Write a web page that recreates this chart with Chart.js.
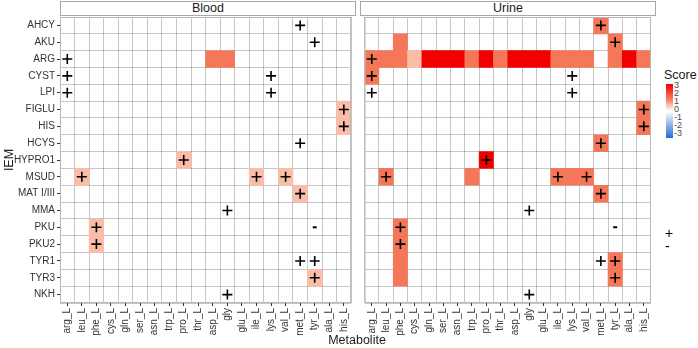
<!DOCTYPE html>
<html>
<head>
<meta charset="utf-8">
<script src="https://cdn.jsdelivr.net/npm/chart.js@4.4.1/dist/chart.umd.min.js"></script>
<style>
  body { margin: 0; background: #fff; font-family: "Liberation Sans", Arial, sans-serif; }
  #wrap { position: relative; width: 698px; height: 348px; overflow: hidden; }
  canvas { position: absolute; top: 0; }
  .strip { position: absolute; top: 1px; height: 15px; box-sizing: border-box; border: 1px solid #a8a8a8;
           text-align: center; font-size: 12.5px; line-height: 13px; color: #1a1a1a; background: #fff; }
  .lab { position: absolute; color: #1a1a1a; font-size: 12.5px; }
  #bar { position: absolute; left: 666px; top: 84px; width: 7px; height: 54px;
         background: linear-gradient(#f00000, #f7866a 30%, #fff 50%, #a9c4ea 70%, #1f6fd3); }
  #barTicks { position: absolute; left: 674px; top: 81px; font-size: 9px; line-height: 8px; color: #4d4d4d; }
  #shapes { position: absolute; left: 665px; top: 227px; font-size: 14px; line-height: 13px; color: #000;
            transform: translateZ(0); }
</style>
</head>
<body>
<div id="wrap">
  <canvas id="blood" width="358" height="348" style="left:0"></canvas>
  <canvas id="urine" width="300" height="348" style="left:358px"></canvas>
  <div class="strip" style="left:60px;width:296px">Blood</div>
  <div class="strip" style="left:360px;width:296px">Urine</div>
  <div class="lab" style="left:307px;width:100px;top:333px;text-align:center">Metabolite</div>
  <div class="lab" style="left:664px;top:68px">Score</div>
  <div id="bar"></div>
  <div id="barTicks">3<br>2<br>1<br>0<br>-1<br>-2<br>-3</div>
  <div id="shapes">+<br>-</div>
</div>
<script>
const metabolites = ['arg_L', 'leu_L', 'phe_L', 'cys_L', 'gln_L', 'ser_L', 'asn_L', 'trp_L', 'pro_L', 'thr_L',
                     'asp_L', 'gly', 'glu_L', 'ile_L', 'lys_L', 'val_L', 'met_L', 'tyr_L', 'ala_L', 'his_L'];
const iems = ['AHCY', 'AKU', 'ARG', 'CYST', 'LPI', 'FIGLU', 'HIS', 'HCYS', 'HYPRO1', 'MSUD',
              'MAT I/III', 'MMA', 'PKU', 'PKU2', 'TYR1', 'TYR3', 'NKH'];

// score per IEM row, one value per metabolite (0 = no tile)
const bloodScore = [
  [0,0,0,0,0,0,0,0,0,0, 0,0,0,0,0,0,0,0,0,0],
  [0,0,0,0,0,0,0,0,0,0, 0,0,0,0,0,0,0,0,0,0],
  [0,0,0,0,0,0,0,0,0,0, 2,2,0,0,0,0,0,0,0,0],
  [0,0,0,0,0,0,0,0,0,0, 0,0,0,0,0,0,0,0,0,0],
  [0,0,0,0,0,0,0,0,0,0, 0,0,0,0,0,0,0,0,0,0],
  [0,0,0,0,0,0,0,0,0,0, 0,0,0,0,0,0,0,0,0,1],
  [0,0,0,0,0,0,0,0,0,0, 0,0,0,0,0,0,0,0,0,1],
  [0,0,0,0,0,0,0,0,0,0, 0,0,0,0,0,0,0,0,0,0],
  [0,0,0,0,0,0,0,0,1,0, 0,0,0,0,0,0,0,0,0,0],
  [0,1,0,0,0,0,0,0,0,0, 0,0,0,1,0,1,0,0,0,0],
  [0,0,0,0,0,0,0,0,0,0, 0,0,0,0,0,0,1,0,0,0],
  [0,0,0,0,0,0,0,0,0,0, 0,0,0,0,0,0,0,0,0,0],
  [0,0,1,0,0,0,0,0,0,0, 0,0,0,0,0,0,0,0,0,0],
  [0,0,1,0,0,0,0,0,0,0, 0,0,0,0,0,0,0,0,0,0],
  [0,0,0,0,0,0,0,0,0,0, 0,0,0,0,0,0,0,0,0,0],
  [0,0,0,0,0,0,0,0,0,0, 0,0,0,0,0,0,0,1,0,0],
  [0,0,0,0,0,0,0,0,0,0, 0,0,0,0,0,0,0,0,0,0]
];
const urineScore = [
  [0,0,0,0,0,0,0,0,0,0, 0,0,0,0,0,0,2,0,0,0],
  [0,0,2,0,0,0,0,0,0,0, 0,0,0,0,0,0,0,2,0,0],
  [2,2,2,1,3,3,3,2,3,2, 3,3,3,2,2,2,0,2,3,2],
  [2,0,0,0,0,0,0,0,0,0, 0,0,0,0,0,0,0,0,0,0],
  [0,0,0,0,0,0,0,0,0,0, 0,0,0,0,0,0,0,0,0,0],
  [0,0,0,0,0,0,0,0,0,0, 0,0,0,0,0,0,0,0,0,2],
  [0,0,0,0,0,0,0,0,0,0, 0,0,0,0,0,0,0,0,0,2],
  [0,0,0,0,0,0,0,0,0,0, 0,0,0,0,0,0,2,0,0,0],
  [0,0,0,0,0,0,0,0,3,0, 0,0,0,0,0,0,0,0,0,0],
  [0,2,0,0,0,0,0,2,0,0, 0,0,0,2,2,2,0,0,0,0],
  [0,0,0,0,0,0,0,0,0,0, 0,0,0,0,0,0,2,0,0,0],
  [0,0,0,0,0,0,0,0,0,0, 0,0,0,0,0,0,0,0,0,0],
  [0,0,2,0,0,0,0,0,0,0, 0,0,0,0,0,0,0,0,0,0],
  [0,0,2,0,0,0,0,0,0,0, 0,0,0,0,0,0,0,0,0,0],
  [0,0,2,0,0,0,0,0,0,0, 0,0,0,0,0,0,0,2,0,0],
  [0,0,2,0,0,0,0,0,0,0, 0,0,0,0,0,0,0,2,0,0],
  [0,0,0,0,0,0,0,0,0,0, 0,0,0,0,0,0,0,0,0,0]
];
// expected direction: 1 = "+", -1 = "-" (same in both panels)
const signs = [
  [0,0,0,0,0,0,0,0,0,0, 0,0,0,0,0,0,1,0,0,0],
  [0,0,0,0,0,0,0,0,0,0, 0,0,0,0,0,0,0,1,0,0],
  [1,0,0,0,0,0,0,0,0,0, 0,0,0,0,0,0,0,0,0,0],
  [1,0,0,0,0,0,0,0,0,0, 0,0,0,0,1,0,0,0,0,0],
  [1,0,0,0,0,0,0,0,0,0, 0,0,0,0,1,0,0,0,0,0],
  [0,0,0,0,0,0,0,0,0,0, 0,0,0,0,0,0,0,0,0,1],
  [0,0,0,0,0,0,0,0,0,0, 0,0,0,0,0,0,0,0,0,1],
  [0,0,0,0,0,0,0,0,0,0, 0,0,0,0,0,0,1,0,0,0],
  [0,0,0,0,0,0,0,0,1,0, 0,0,0,0,0,0,0,0,0,0],
  [0,1,0,0,0,0,0,0,0,0, 0,0,0,1,0,1,0,0,0,0],
  [0,0,0,0,0,0,0,0,0,0, 0,0,0,0,0,0,1,0,0,0],
  [0,0,0,0,0,0,0,0,0,0, 0,1,0,0,0,0,0,0,0,0],
  [0,0,1,0,0,0,0,0,0,0, 0,0,0,0,0,0,0,-1,0,0],
  [0,0,1,0,0,0,0,0,0,0, 0,0,0,0,0,0,0,0,0,0],
  [0,0,0,0,0,0,0,0,0,0, 0,0,0,0,0,0,1,1,0,0],
  [0,0,0,0,0,0,0,0,0,0, 0,0,0,0,0,0,0,1,0,0],
  [0,0,0,0,0,0,0,0,0,0, 0,1,0,0,0,0,0,0,0,0]
];

const scoreColours = { 1: '#fbbda8', 2: '#f5775a', 3: '#f20000' };
const gridColour = 'rgba(70,70,70,0.3)';
const ink = '#333';

function tiles(score) {
  const pts = [];
  score.forEach((row, r) => row.forEach((v, c) => {
    if (v) pts.push({ x: metabolites[c], y: [r - 0.5, r + 0.5], v: v });
  }));
  return pts;
}
function marks(want) {
  const pts = [];
  signs.forEach((row, r) => row.forEach((s, c) => {
    if (s === want) pts.push({ x: metabolites[c], y: r });
  }));
  return pts;
}

const panelBox = {
  id: 'panelBox',
  afterDraw(chart) {
    const a = chart.chartArea, ctx = chart.ctx;
    ctx.save();
    ctx.strokeStyle = '#b8b8b8';
    ctx.lineWidth = 1;
    ctx.strokeRect(a.left + 0.5, a.top + 0.5, a.right - a.left - 1, a.bottom - a.top - 1);
    ctx.restore();
  }
};

function heatmap(id, score, showY, pad) {
  const rowTicks = iems.map((_, i) => ({ value: i }));
  const edgeTicks = iems.concat(['']).map((_, i) => ({ value: i - 0.5 }));
  return new Chart(document.getElementById(id), {
    type: 'bar',
    data: {
      labels: metabolites,
      datasets: [
        {
          data: tiles(score),
          backgroundColor: ctx => scoreColours[ctx.raw.v],
          borderWidth: 0,
          barPercentage: 1,
          categoryPercentage: 1,
          order: 2
        },
        {
          type: 'line',
          data: marks(1),
          showLine: false,
          pointStyle: 'cross',
          pointRadius: 5,
          borderColor: '#000',
          borderWidth: 1.6,
          order: 1
        },
        {
          type: 'line',
          data: marks(-1),
          showLine: false,
          pointStyle: 'line',
          pointRadius: 2,
          borderColor: '#000',
          borderWidth: 2,
          order: 1
        }
      ]
    },
    options: {
      responsive: false,
      animation: false,
      layout: { padding: pad },
      plugins: { legend: { display: false }, tooltip: { enabled: false } },
      scales: {
        x: {
          type: 'category', offset: true,
          grid: { offset: false, drawOnChartArea: false, tickLength: 3, tickColor: ink },
          border: { display: false },
          ticks: { minRotation: 90, maxRotation: 90, autoSkip: false, padding: 2,
                   font: { size: 10 }, color: ink },
          afterFit: s => { s.height = 45; }
        },
        xg: {
          type: 'category', labels: metabolites, offset: true, position: 'bottom', z: 1,
          grid: { offset: true, color: gridColour, drawTicks: false },
          ticks: { display: false },
          border: { display: false },
          afterFit: s => { s.height = 0; }
        },
        y: {
          type: 'linear', min: -0.5, max: 16.5, reverse: true, display: showY,
          afterBuildTicks: s => { s.ticks = rowTicks; },
          grid: { drawOnChartArea: false, tickLength: 3, tickColor: ink },
          border: { display: false },
          title: { display: true, text: 'IEM', color: '#1a1a1a', font: { size: 12.5 }, padding: { top: 2, bottom: 0 } },
          ticks: { autoSkip: false, padding: 2, font: { size: 10 }, color: ink,
                   callback: v => iems[v] },
          afterFit: s => { s.width = showY ? 60 : 0; }
        },
        yg: {
          type: 'linear', min: -0.5, max: 16.5, reverse: true, position: 'left', z: 1,
          afterBuildTicks: s => { s.ticks = edgeTicks; },
          grid: { color: gridColour, drawTicks: false },
          ticks: { display: false },
          border: { display: false },
          afterFit: s => { s.width = 0; }
        }
      }
    },
    plugins: [panelBox]
  });
}

Chart.defaults.font.family = '"Liberation Sans", Arial, sans-serif';
heatmap('blood', bloodScore, true, { top: 17, right: 3, left: 0, bottom: 0 });
heatmap('urine', urineScore, false, { top: 17, right: 3, left: 2, bottom: 0 });
</script>
</body>
</html>
